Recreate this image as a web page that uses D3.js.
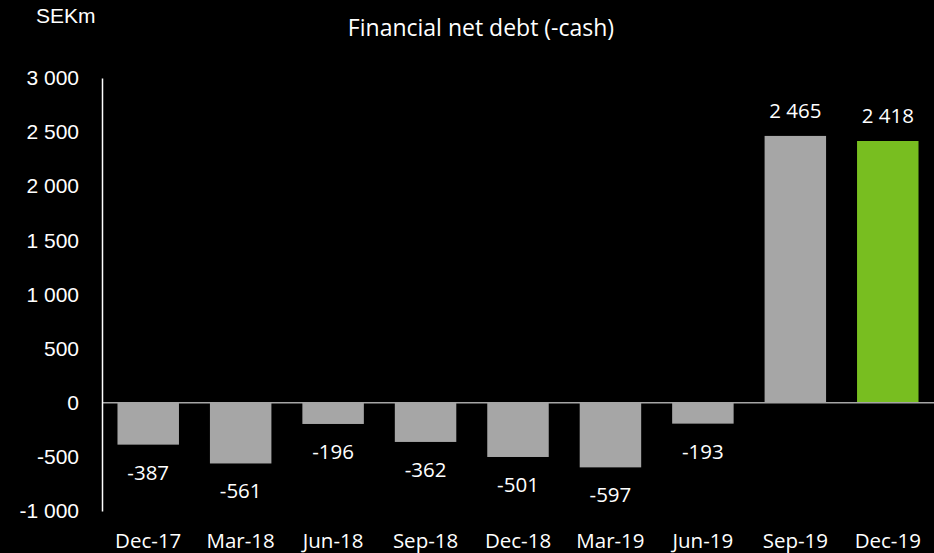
<!DOCTYPE html>
<html><head><meta charset="utf-8">
<script src="https://cdn.jsdelivr.net/npm/d3@7"></script>
<style>html,body{margin:0;padding:0;background:#000;}svg{display:block;}</style>
</head><body>
<svg id="chart" width="934" height="553"></svg>
<script>
const categories = ["Dec-17","Mar-18","Jun-18","Sep-18","Dec-18","Mar-19","Jun-19","Sep-19","Dec-19"];
const values = [-387,-561,-196,-362,-501,-597,-193,2465,2418];
const barColors = ["#A6A6A6","#A6A6A6","#A6A6A6","#A6A6A6","#A6A6A6","#A6A6A6","#A6A6A6","#A6A6A6","#78BE20"];
const yTicks = [-1000,-500,0,500,1000,1500,2000,2500,3000];
const title = "Financial net debt (-cash)";
const unit = "SEKm";

const svg = d3.select("#chart");
svg.append("rect").attr("width",934).attr("height",553).attr("fill","#000");

const x = d3.scaleBand().domain(categories).range([102,934]).paddingInner(0.335).paddingOuter(0.1675);
const y = d3.scaleLinear().domain([-1000,3000]).range([511,78]);
const fmt = v => d3.format(",")(v).replace(/,/g," ").replace("−","-");

// bars
svg.selectAll("rect.bar").data(values).enter().append("rect")
  .attr("class","bar")
  .attr("x",(d,i)=>x(categories[i]))
  .attr("width",x.bandwidth())
  .attr("y",d=>y(Math.max(0,d)))
  .attr("height",d=>Math.abs(y(d)-y(0)))
  .attr("fill",(d,i)=>barColors[i]);

// zero line
svg.append("line").attr("x1",102).attr("x2",934).attr("y1",y(0)).attr("y2",y(0))
  .attr("stroke","#A6A6A6").attr("stroke-width",1.5);

// y axis
const yAxis = d3.axisLeft(y).tickValues(yTicks).tickSize(0).tickPadding(23).tickFormat(fmt);
const gy = svg.append("g").attr("transform","translate(102,0)").call(yAxis);
gy.select(".domain").attr("stroke","#fff").attr("stroke-width",1.5);
gy.selectAll("text").attr("fill","#fff").attr("font-family","Liberation Sans, Arial, sans-serif").attr("font-size",21);

// x axis labels
const xAxis = d3.axisBottom(x).tickSize(0).tickPadding(0);
const gx = svg.append("g").attr("transform","translate(0,533)").call(xAxis);
gx.select(".domain").remove();
gx.selectAll("text").attr("fill","#fff").attr("font-family","Open Sans, sans-serif").attr("font-size",20.5);

// value labels
svg.selectAll("text.val").data(values).enter().append("text")
  .attr("class","val")
  .attr("x",(d,i)=>x(categories[i])+x.bandwidth()/2)
  .attr("y",d=> d<0 ? y(d)+35 : y(d)-18)
  .attr("text-anchor","middle")
  .attr("fill","#fff").attr("font-family","Open Sans, sans-serif").attr("font-size",20.5)
  .text(d=>fmt(d));

svg.append("text").attr("x",481).attr("y",36).attr("text-anchor","middle")
  .attr("fill","#fff").attr("font-family","Open Sans, sans-serif").attr("font-size",23).text(title);
svg.append("text").attr("x",36).attr("y",23)
  .attr("fill","#fff").attr("font-family","Liberation Sans, Arial, sans-serif").attr("font-size",21).text(unit);
</script>
</body></html>
